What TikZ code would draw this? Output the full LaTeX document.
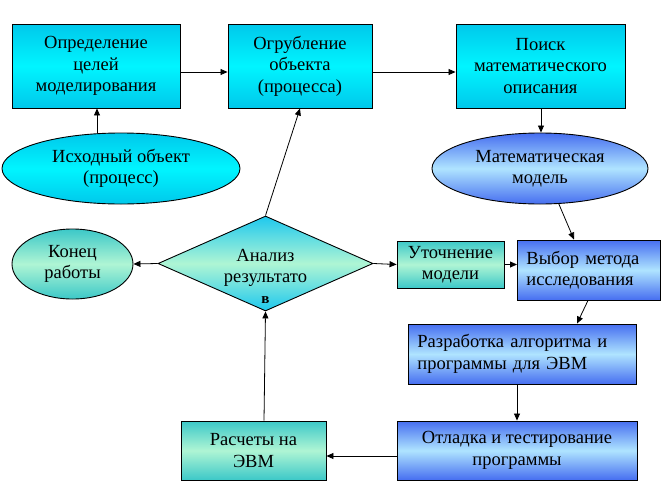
\documentclass[tikz,border=0pt]{standalone}
\usepackage{fontspec}
\setmainfont{Liberation Serif}
\usetikzlibrary{shapes.geometric,arrows.meta}
\definecolor{cyantop}{RGB}{0,200,235}
\definecolor{cyanmid}{RGB}{0,245,255}
\definecolor{bluetop}{RGB}{70,110,240}
\definecolor{bluemid}{RGB}{175,228,255}
\definecolor{greentop}{RGB}{60,200,200}
\definecolor{greenmid}{RGB}{175,245,212}
\definecolor{diatop}{RGB}{30,200,238}
\begin{document}
\begin{tikzpicture}[x=1pt,y=-1pt,
  txt/.style={inner sep=0pt, align=center, font=\fontsize{18.5}{21.5}\selectfont},
  base/.style={txt, draw=black, line width=0.9pt},
  cyanbox/.style={base, rectangle, top color=cyantop, bottom color=cyantop, middle color=cyanmid},
  bluebox/.style={base, rectangle, top color=bluetop, bottom color=bluetop, middle color=bluemid},
  greenbox/.style={base, rectangle, top color=greentop, bottom color=greentop, middle color=greenmid},
  cyanell/.style={base, ellipse, top color=cyantop, bottom color=cyantop, middle color=cyanmid},
  blueell/.style={base, ellipse, top color=bluetop, bottom color=bluetop, middle color=bluemid},
  greenell/.style={base, ellipse, top color=greentop, bottom color=greentop, middle color=greenmid},
  conn/.style={draw=black, line width=0.8pt, -{Triangle[length=7pt,width=6pt]}}
]
\useasboundingbox (0,0) rectangle (662,493);

\node[cyanbox, minimum width=168pt, minimum height=84pt] (b1) at (96,66)
  {Определение\\целей\\моделирования};
\node[cyanbox, minimum width=144pt, minimum height=84pt] (b2) at (300,66)
  {Огрубление\\объекта\\(процесса)};
\node[cyanbox, minimum width=169pt, minimum height=84pt] (b3) at (540.5,66)
  {Поиск\\математического\\описания};

\node[cyanell, minimum width=238pt, minimum height=71pt] (e1) at (121,168.5)
  {Исходный объект\\(процесс)};
\node[blueell, minimum width=216pt, minimum height=71pt] (e2) at (540,168.5)
  {Математическая\\модель};

\node[base, diamond, aspect=2.23, minimum width=215pt, minimum height=95pt,
  top color=diatop, bottom color=diatop, middle color=greenmid] (d) at (265.5,263.5) {};
\node[txt] (dt) at (265.5,276)
  {Анализ\\результато\\[-1pt]{\fontsize{15}{15}\selectfont\bfseries в}};

\node[greenell, minimum width=121pt, minimum height=70pt] (e3) at (72.5,264)
  {Конец\\работы};

\node[greenbox, minimum width=107pt, minimum height=47pt] (b4) at (450.5,264.5)
  {Уточнение\\модели};
\node[bluebox, minimum width=143pt, minimum height=60pt, anchor=west,
  align=left, text width=125pt, inner xsep=9pt] (b5) at (517,270)
  {Выбор метода\\исследования};
\node[bluebox, minimum width=228pt, minimum height=60pt, anchor=west,
  align=left, text width=210pt, inner xsep=9pt] (b6) at (408,354)
  {Разработка алгоритма и\\программы для ЭВМ};
\node[bluebox, minimum width=240pt, minimum height=59pt] (b7) at (517,450.5)
  {Отладка и тестирование\\программы};
\node[greenbox, minimum width=145pt, minimum height=59pt] (b8) at (253.5,450.5)
  {Расчеты на\\ЭВМ};

\draw[conn] (b1.east |- 0,72) -- (b2.west |- 0,72);
\draw[conn] (b2.east |- 0,72) -- (b3.west |- 0,72);
\draw[conn] (e1.north -| 97,0) -- (b1.south -| 97,0);
\draw[conn] (b3.south -| 541,0) -- (e2.north -| 541,0);
\draw[conn] (d.north) -- (b2.south -| 300,0);
\draw[conn] (e2.-62) -- (b5.north -| 574,0);
\draw[conn] (d.west) -- (e3.east);
\draw[conn] (d.east) -- (b4.west);
\draw[conn] (b4.east) -- (b5.west |- b4.east);
\draw[conn] (b5.south -| 588,0) -- (b6.north -| 577,0);
\draw[conn] (b6.south -| 517,0) -- (b7.north -| 517,0);
\draw[conn] (b7.west |- 0,456) -- (b8.east |- 0,456);
\draw[conn] (b8.north -| 264,0) -- (d.south);
\end{tikzpicture}
\end{document}
